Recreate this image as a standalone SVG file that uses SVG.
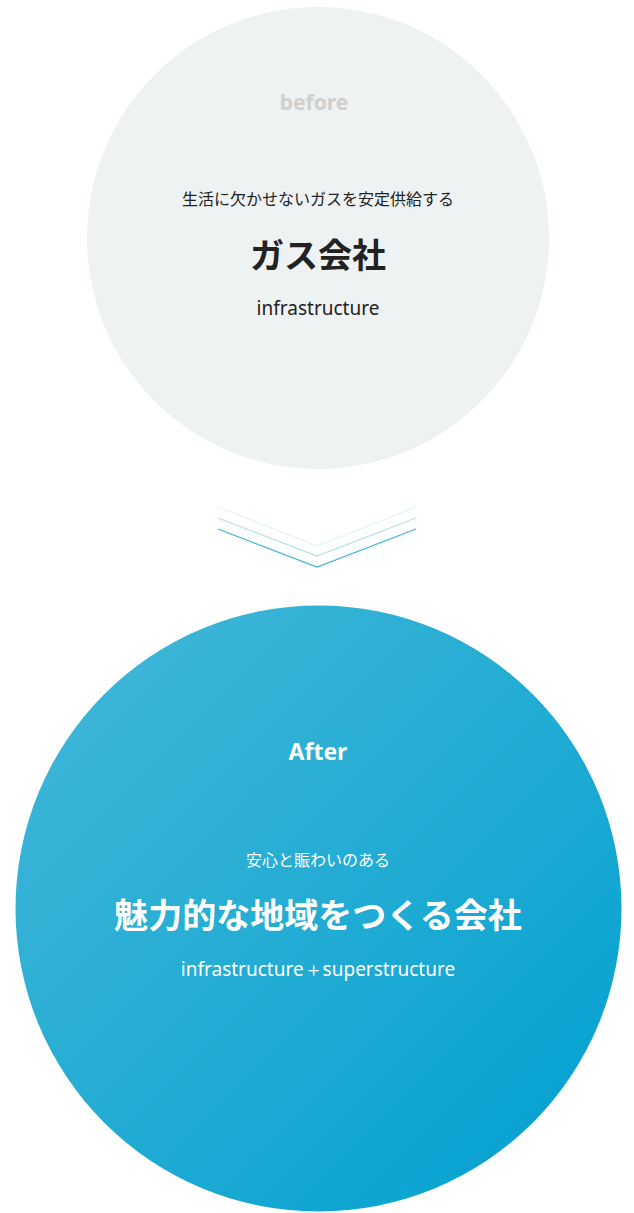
<svg xmlns="http://www.w3.org/2000/svg" width="634" height="1213" viewBox="0 0 634 1213">
<defs>
<linearGradient id="g" x1="0" y1="0" x2="1" y2="1">
<stop offset="0" stop-color="#45b8d8"/><stop offset="1" stop-color="#00a0d0"/>
</linearGradient>
<style>
text{font-family:"Noto Sans CJK JP","Noto Sans",sans-serif;text-anchor:middle}
.lt{font-family:"Noto Sans","Liberation Sans",sans-serif}
</style>
</defs>
<rect width="634" height="1213" fill="#fff"/>
<g id="before">
<circle cx="318" cy="238" r="231" fill="#eff2f3"/>
<text x="314" y="110" class="lt" font-size="21" font-weight="bold" fill="#cfcfcf">before</text>
<text x="318" y="205" font-size="16" fill="#222">生活に欠かせないガスを安定供給する</text>
<text x="318" y="268" font-size="34" font-weight="bold" fill="#222">ガス会社</text>
<text x="318" y="315" class="lt" font-size="19" fill="#222">infrastructure</text>
</g>
<g id="connectors" fill="none">
<polyline points="218,507 317,546 416,507" stroke="#e3f4fa" stroke-width="1.2"/>
<polyline points="218,518 317,556 416,518" stroke="#b6e0ee" stroke-width="1.2"/>
<polyline points="218,529 317,567 416,529" stroke="#3fb2d8" stroke-width="1.2"/>
</g>
<g id="after">
<circle cx="318.5" cy="908.5" r="303" fill="url(#g)"/>
<text x="318" y="760" class="lt" font-size="23" font-weight="bold" fill="#fff">After</text>
<text x="318" y="866" font-size="16" fill="#fff">安心と賑わいのある</text>
<text x="318" y="928" font-size="34" font-weight="bold" fill="#fff">魅力的な地域をつくる会社</text>
<text x="318" y="976" class="lt" font-size="19" fill="#fff">infrastructure＋superstructure</text>
</g>
</svg>
